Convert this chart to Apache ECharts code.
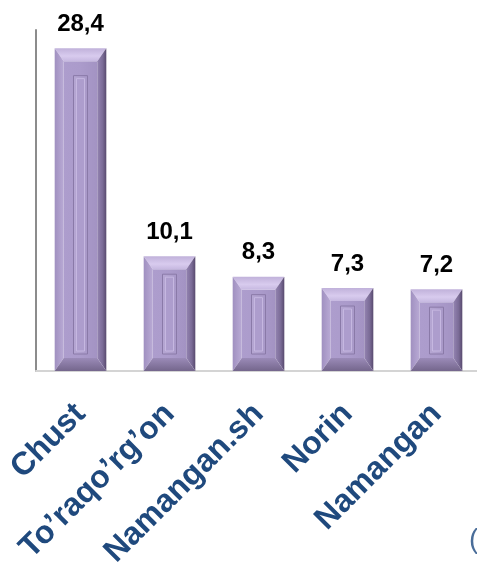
<!DOCTYPE html>
<html>
<head>
<meta charset="utf-8">
<script src="https://cdn.jsdelivr.net/npm/echarts@6/dist/echarts.min.js"></script>
<style>
html,body{margin:0;padding:0;background:#fff;}
#c{width:477px;height:563px;}
</style>
</head>
<body>
<div id="c"></div>
<script>
var categories = ["Chust", "To\u2019raqo\u2019rg\u2019on", "Namangan.sh", "Norin", "Namangan"];
var values = [28.4, 10.1, 8.3, 7.3, 7.2];

var chart = echarts.init(document.getElementById('c'), null, {renderer: 'canvas'});

function lg(x0, y0, x1, y1, stops) {
  return new echarts.graphic.LinearGradient(x0, y0, x1, y1, stops.map(function (s) { return {offset: s[0], color: s[1]}; }));
}

function renderItem(params, api) {
  var idx = api.value(0);
  var val = api.value(1);
  var top = api.coord([idx, val]);
  var bot = api.coord([idx, 0]);
  var bw = api.size([1, 0])[0] * 0.58;
  var x0 = top[0] - bw / 2, x1 = top[0] + bw / 2;
  var y0 = top[1], y1 = bot[1];
  var h = y1 - y0;
  var bs = 9, bt = 13, bb = 13;
  var gw = 14;
  var gTop = y0 + Math.max(18, h * 0.085);
  var gBot = y1 - 17;
  var cx = top[0];
  var children = [
    {type: 'rect', shape: {x: x0 + bs, y: y0 + bt, width: bw - 2 * bs, height: h - bt - bb},
      style: {fill: lg(0, 0, 1, 0, [[0, '#ad9dcd'], [0.5, '#ab9bcb'], [1, '#a393c3']])}},
    {type: 'polygon', shape: {points: [[x0, y0], [x1, y0], [x1 - bs, y0 + bt], [x0 + bs, y0 + bt]]},
      style: {fill: lg(0, 0, 0, 1, [[0, '#c0b1da'], [0.6, '#d8cbee'], [1, '#c6b8e0']])}},
    {type: 'polygon', shape: {points: [[x0, y0], [x0 + bs, y0 + bt], [x0 + bs, y1 - bb], [x0, y1]]},
      style: {fill: lg(0, 0, 1, 0, [[0, '#a090c0'], [1, '#b9aad5']])}},
    {type: 'polygon', shape: {points: [[x1, y0], [x1, y1], [x1 - bs, y1 - bb], [x1 - bs, y0 + bt]]},
      style: {fill: lg(0, 0, 1, 0, [[0, '#9484b2'], [0.6, '#7a6b96'], [1, '#584a6e']])}},
    {type: 'polygon', shape: {points: [[x0, y1], [x0 + bs, y1 - bb], [x1 - bs, y1 - bb], [x1, y1]]},
      style: {fill: lg(0, 0, 0, 1, [[0, '#9b8bb8'], [1, '#74668c']])}},
    {type: 'rect', shape: {x: cx - gw / 2, y: gTop, width: gw, height: gBot - gTop},
      style: {fill: lg(0, 0, 1, 0, [[0, '#b6a7d3'], [1, '#a898c8']]), stroke: '#8a7aa8', lineWidth: 1}},
    {type: 'rect', shape: {x: cx - gw / 2 + 3, y: gTop + 3, width: gw - 6, height: gBot - gTop - 6},
      style: {fill: '#ad9dcd', stroke: '#c5b7e0', lineWidth: 1}},
    {type: 'text', x: cx, y: y0 - 12,
      style: {text: String(val).replace('.', ','), fill: '#000', font: 'bold 24px "Liberation Sans", Arial, sans-serif',
        textAlign: 'center', textVerticalAlign: 'bottom'}}
  ];
  return {type: 'group', children: children};
}

var option = {
  animation: false,
  grid: {left: 36, top: 30, width: 445, height: 341, containLabel: false, outerBoundsMode: 'none'},
  xAxis: {
    type: 'category',
    data: categories,
    axisLine: {show: true, lineStyle: {color: '#d4d4d4', width: 2}},
    axisTick: {show: false},
    axisLabel: {
      interval: 0, rotate: 45, margin: 38,
      color: '#1f497d', fontWeight: 'bold', fontSize: 32,
      fontFamily: '"Liberation Sans", Arial, sans-serif'
    }
  },
  yAxis: {
    type: 'value', min: 0, max: 30,
    axisLine: {show: true, lineStyle: {color: '#8c8c8c', width: 2}},
    axisTick: {show: false},
    axisLabel: {show: false},
    splitLine: {show: false}
  },
  series: [{
    type: 'custom',
    renderItem: renderItem,
    encode: {x: 0, y: 1},
    data: values.map(function (v, i) { return [i, v]; }),
    clip: false
  }],
  graphic: [{
    type: 'text', left: 469, top: 526,
    style: {text: '(%)', fill: '#4a6d99', font: '28px "Liberation Sans", Arial, sans-serif'}
  }]
};
chart.setOption(option);
</script>
</body>
</html>
